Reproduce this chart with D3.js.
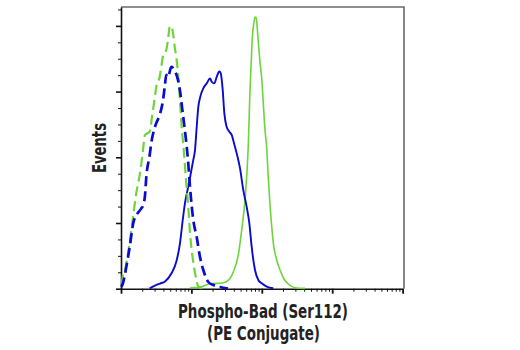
<!DOCTYPE html>
<html>
<head>
<meta charset="utf-8">
<script src="https://cdn.jsdelivr.net/npm/d3@7"></script>
<style>
  html, body { margin: 0; padding: 0; background: #fff; }
  svg { display: block; }
  text { font-family: "Liberation Sans Narrow", "DejaVu Sans Condensed", "Arial Narrow", sans-serif; font-weight: bold; fill: #222; }
</style>
</head>
<body>
<svg id="chart" width="520" height="350"></svg>
<script>
// ---- Data (fluorescence intensity, relative event counts) ----
const greenDashedX = [1.02, 1.05, 1.166, 1.342, 1.481, 1.649, 1.862, 2.033, 2.193, 2.341, 2.557, 2.756, 2.943, 3.172, 3.545, 3.736, 3.951, 4.401, 4.651, 4.918, 5.183, 5.478, 5.792, 6.104, 6.733, 7.281, 7.851, 8.381, 9.036, 9.552, 10.10, 10.89, 11.62, 12.41, 14.15];
const greenDashedY = [1.13, 3.26, 6.61, 14.8, 21.8, 29.1, 35.2, 41.3, 46.8, 47.2, 47.8, 52.3, 56.5, 61.5, 64.5, 67.6, 70.8, 72.7, 75.7, 79.7, 80.0, 77.8, 73.6, 70.5, 60.5, 49.2, 41.3, 33.1, 24.9, 17.0, 11.8, 6.6, 3.26, 0.82, 0.06];

const blueDashedX = [1.010, 1.068, 1.189, 1.329, 1.495, 1.688, 1.923, 2.074, 2.193, 2.288, 2.557, 2.694, 2.943, 3.172, 3.545, 3.951, 4.176, 4.401, 4.651, 5.183, 5.478, 5.907, 6.452, 6.955, 7.354, 7.851, 8.465, 8.947, 9.552, 10.64, 11.89, 13.25, 14.76, 17.38, 20.47, 25.49, 33.11];
const blueDashedY = [0.52, 1.74, 6.61, 12.7, 20.0, 22.7, 24.3, 25.5, 28.5, 34.0, 40.7, 44.4, 48.3, 50.4, 52.9, 57.4, 61.4, 65.1, 64.4, 67.5, 67.2, 66.0, 63.5, 59.6, 55.3, 50.4, 44.4, 39.2, 31.0, 20.9, 15.7, 9.65, 5.69, 2.04, 1.13, 0.52, 0.06];

const blueSolidX = [2.557, 3.041, 3.581, 4.217, 5.216, 6.144, 6.889, 7.474, 8.114, 8.803, 9.71, 10.64, 11.25, 11.89, 12.53, 13.25, 14.76, 16.5, 18.38, 19.43, 21.15, 22.88, 24.91, 26.08, 27.84, 29.33, 31.72, 34.54, 37.36, 40.29, 44.01, 49.01, 54.61, 61.04, 66.45, 71.86, 80.06, 89.2, 99.68, 117.4, 145.7];
const blueSolidY = [0.12, 0.97, 1.58, 2.19, 4.69, 8.43, 13.9, 20.3, 26.1, 30.0, 34.6, 39.2, 42.2, 49.2, 55.3, 58.1, 61.0, 62.5, 64.0, 63.0, 62.5, 64.5, 66.1, 65.6, 60.5, 53.5, 49.2, 47.8, 46.8, 44.3, 41.2, 36.7, 30.0, 24.9, 20.0, 12.7, 5.69, 2.65, 1.64, 0.61, 0.12];

const greenSolidX = [9.552, 13.25, 16.5, 20.27, 25.49, 31.72, 39.38, 46.37, 51.83, 57.74, 64.31, 67.99, 70.95, 73.31, 76.74, 80.06, 82.74, 84.66, 89.2, 94.28, 99.68, 105, 111, 117.4, 123.7, 130.8, 138.2, 145.7, 162.8, 181.4, 206.7, 237.9, 296.2, 410.9];
const greenSolidY = [0.30, 0.46, 1.22, 1.58, 1.64, 2.19, 5.08, 10.3, 17.9, 27.0, 43.7, 60.5, 69.6, 76.3, 80.6, 82.7, 82.6, 81.2, 75.1, 69.0, 64.1, 56.5, 48.3, 42.8, 33.7, 25.5, 19.1, 13.9, 8.74, 5.69, 2.95, 1.43, 0.30, 0.09];

const xDomain = [1, 10000];
const yDomain = [0, 85.75];
const yMajorTicks = [0, 20, 40, 60, 80];
const yMinorTicks = [5, 10, 15, 25, 30, 35, 45, 50, 55, 65, 70, 75, 85];
const xTitleLines = ["Phospho-Bad (Ser112)", "(PE Conjugate)"];
const yTitle = "Events";

const GREEN = "#6fd43c";
const BLUE = "#0b0bd0";

// ---- Layout ----
const mLeft = 121, mRight = 402.6, mTop = 7, mBottom = 288.7, frameRight = 404;
const svg = d3.select("#chart");

const x = d3.scaleLog().domain(xDomain).range([mLeft, mRight]);
const y = d3.scaleLinear().domain(yDomain).range([mBottom, mTop]);

// frame (top / right)
svg.append("path")
  .attr("d", `M${mLeft},${mTop} L${frameRight},${mTop} L${frameRight},${mBottom}`)
  .attr("fill", "none").attr("stroke", "#6a6a6a").attr("stroke-width", 1.6);

// ---- Axes ----
const xMajor = d3.range(0, 5).map(e => Math.pow(10, e));
const xMinor = [];
for (let e = 0; e < 4; e++) for (let k = 2; k <= 9; k++) xMinor.push(k * Math.pow(10, e));

const gx = svg.append("g").attr("transform", `translate(0,${mBottom})`);
gx.call(d3.axisBottom(x).tickValues(xMinor).tickSize(3).tickFormat(""))
  .call(g => g.select(".domain").remove())
  .call(g => g.selectAll(".tick line").attr("stroke", "#111").attr("stroke-width", 1));
const gx2 = svg.append("g").attr("transform", `translate(0,${mBottom})`);
gx2.call(d3.axisBottom(x).tickValues(xMajor).tickSize(5).tickSizeOuter(0).tickFormat(""))
  .call(g => g.select(".domain").attr("stroke", "#111").attr("stroke-width", 1.6))
  .call(g => g.selectAll(".tick line").attr("stroke", "#111").attr("stroke-width", 1.8));

const gy = svg.append("g").attr("transform", `translate(${mLeft},0)`);
gy.call(d3.axisLeft(y).tickValues(yMinorTicks).tickSize(3).tickFormat(""))
  .call(g => g.select(".domain").remove())
  .call(g => g.selectAll(".tick line").attr("stroke", "#111").attr("stroke-width", 1));
const gy2 = svg.append("g").attr("transform", `translate(${mLeft},0)`);
gy2.call(d3.axisLeft(y).tickValues(yMajorTicks).tickSize(5).tickSizeOuter(0).tickFormat(""))
  .call(g => g.select(".domain").attr("stroke", "#111").attr("stroke-width", 1.6))
  .call(g => g.selectAll(".tick line").attr("stroke", "#111").attr("stroke-width", 1.6));

// ---- Curves ----
const line = d3.line().x(d => x(d[0])).y(d => y(d[1])).curve(d3.curveMonotoneX);
const zip = (a, b) => a.map((v, i) => [v, b[i]]);

const series = [
  { xs: greenSolidX, ys: greenSolidY, color: GREEN, w: 1.6, dash: null },
  { xs: blueSolidX, ys: blueSolidY, color: BLUE, w: 1.9, dash: null },
  { xs: greenDashedX, ys: greenDashedY, color: GREEN, w: 2.2, dash: "10,5" },
  { xs: blueDashedX, ys: blueDashedY, color: BLUE, w: 2.7, dash: "10,5" }
];
series.forEach(s => {
  svg.append("path")
    .attr("d", line(zip(s.xs, s.ys)))
    .attr("fill", "none")
    .attr("stroke", s.color)
    .attr("stroke-width", s.w)
    .attr("stroke-dasharray", s.dash)
    .attr("stroke-linejoin", "round");
});

// ---- Titles ----
svg.append("text")
  .attr("x", 263).attr("y", 318)
  .attr("text-anchor", "middle").attr("font-size", 19)
  .attr("textLength", 170).attr("lengthAdjust", "spacingAndGlyphs")
  .text(xTitleLines[0]);
svg.append("text")
  .attr("x", 263.5).attr("y", 340)
  .attr("text-anchor", "middle").attr("font-size", 19)
  .attr("textLength", 113).attr("lengthAdjust", "spacingAndGlyphs")
  .text(xTitleLines[1]);
svg.append("text")
  .attr("transform", "translate(106,148) rotate(-90)")
  .attr("text-anchor", "middle").attr("font-size", 19)
  .attr("textLength", 50).attr("lengthAdjust", "spacingAndGlyphs")
  .text(yTitle);
</script>
</body>
</html>
